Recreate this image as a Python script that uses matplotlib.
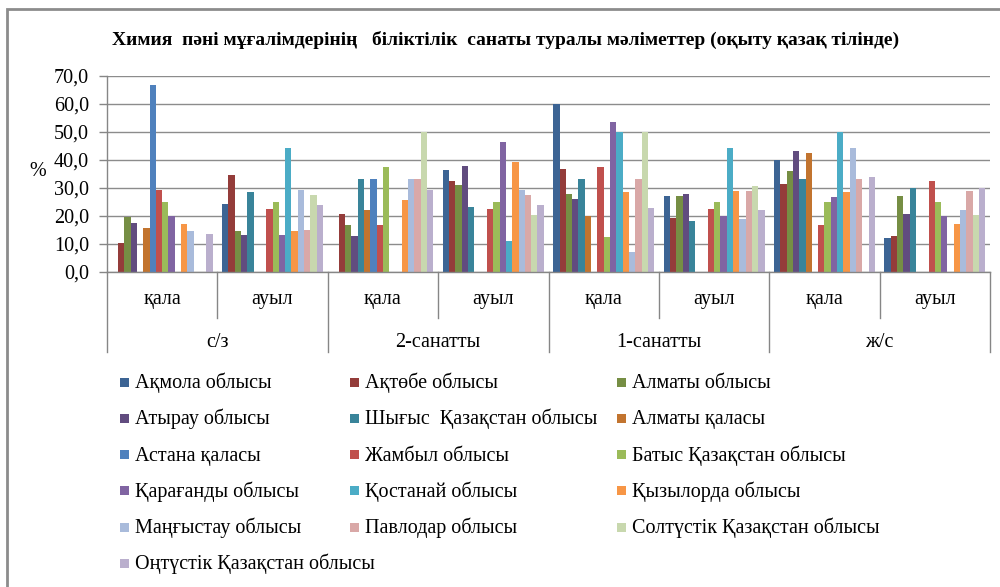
import matplotlib.pyplot as plt
import matplotlib.patches as mpatches
from matplotlib.ticker import FuncFormatter
import numpy as np

plt.rcParams['font.family'] = ['Liberation Serif', 'DejaVu Serif']

# санаттар (екі деңгейлі ось)
sub_labels = ['қала', 'ауыл'] * 4
main_labels = ['с/з', '2-санатты', '1-санатты', 'ж/с']

regions = ['Ақмола облысы', 'Ақтөбе облысы', 'Алматы облысы',
           'Атырау облысы', 'Шығыс  Қазақстан облысы', 'Алматы қаласы',
           'Астана қаласы', 'Жамбыл облысы', 'Батыс Қазақстан облысы',
           'Қарағанды облысы', 'Қостанай облысы', 'Қызылорда облысы',
           'Маңғыстау облысы', 'Павлодар облысы', 'Солтүстік Қазақстан облысы',
           'Оңтүстік Қазақстан облысы']

# мәндер, % (8 санат бойынша)
akmola     = [0, 24.3, 0, 36.5, 60.0, 27.0, 40.0, 12.1]
aktobe     = [10.5, 34.8, 20.8, 32.6, 36.9, 19.4, 31.5, 12.9]
almaty_obl = [19.5, 14.5, 16.7, 31.2, 27.7, 27.0, 36.2, 27.0]
atyrau     = [17.4, 13.2, 12.9, 37.9, 26.1, 28.0, 43.3, 20.8]
shygys     = [0, 28.5, 33.3, 23.3, 33.3, 18.1, 33.3, 30.0]
almaty_q   = [15.6, 0, 22.1, 0, 20.0, 0, 42.4, 0]
astana     = [66.7, 0, 33.3, 0, 0, 0, 0, 0]
zhambyl    = [29.2, 22.6, 16.7, 22.6, 37.5, 22.6, 16.7, 32.6]
batys      = [25.0, 25.0, 37.5, 25.0, 12.5, 25.0, 25.0, 25.0]
karagandy  = [20.0, 13.2, 0, 46.5, 53.5, 20.0, 26.7, 20.0]
kostanay   = [0, 44.4, 0, 11.1, 50.0, 44.4, 50.0, 0]
kyzylorda  = [17.0, 14.5, 25.7, 39.2, 28.5, 28.8, 28.5, 17.3]
mangystau  = [14.5, 29.2, 33.3, 29.2, 7.3, 18.8, 44.4, 22.1]
pavlodar   = [0, 14.9, 33.3, 27.4, 33.3, 28.8, 33.3, 28.8]
soltustik  = [0, 27.4, 50.0, 20.5, 50.0, 30.8, 0, 20.5]
ontustik   = [13.5, 23.9, 29.2, 23.9, 23.0, 22.3, 34.0, 30.0]

series = [akmola, aktobe, almaty_obl, atyrau, shygys, almaty_q, astana, zhambyl,
          batys, karagandy, kostanay, kyzylorda, mangystau, pavlodar, soltustik, ontustik]

colors = ['#3C6494', '#943C3A', '#768E44', '#614C7F', '#39849A', '#C2742F',
          '#4F81BD', '#C0504D', '#9BBB59', '#8064A2', '#4BACC6', '#F79646',
          '#A9BBDB', '#D9A8A7', '#C8D8AE', '#BAAFCD']

fig = plt.figure(figsize=(10, 5.87), dpi=100)
ax = fig.add_axes([0.107, 0.5366, 0.883, 0.3339])

n = len(series)
x = np.arange(len(sub_labels))
w = 1 / (n + 1.5)
for i, (vals, c) in enumerate(zip(series, colors)):
    ax.bar(x - 0.5 + 0.75 * w + (i + 0.5) * w, vals, width=w, color=c, linewidth=0)

ax.set_xlim(-0.5, len(sub_labels) - 0.5)
ax.set_ylim(0, 70)
ax.set_yticks(np.arange(0, 71, 10))
ax.yaxis.set_major_formatter(FuncFormatter(lambda v, p: f'{v:.1f}'.replace('.', ',')))
ax.tick_params(axis='y', length=6, width=1, color='#868686', labelsize=14.5, pad=7)
ax.set_xticks([])
ax.grid(axis='y', color='#8C8C8C', linewidth=1)
ax.set_axisbelow(True)
for s in ['top', 'right']:
    ax.spines[s].set_visible(False)
for s in ['left', 'bottom']:
    ax.spines[s].set_color('#868686')
    ax.spines[s].set_linewidth(1)

# екі деңгейлі X осі
tr = ax.get_xaxis_transform()
for i, lab in enumerate(sub_labels):
    ax.text(i, -0.14, lab, transform=tr, ha='center', va='center', fontsize=14.5)
for j, lab in enumerate(main_labels):
    ax.text(2 * j + 0.5, -0.36, lab, transform=tr, ha='center', va='center', fontsize=14.5)
for k in range(len(sub_labels) + 1):
    y_end = -0.41 if k % 2 == 0 else -0.235
    ax.plot([k - 0.5, k - 0.5], [0, y_end], transform=tr, color='#868686',
            linewidth=1, clip_on=False)

fig.text(0.506, 0.932, 'Химия  пәні мұғалімдерінің   біліктілік  санаты туралы мәліметтер (оқыту қазақ тілінде)',
         ha='center', va='center', fontsize=14, fontweight='bold')
fig.text(0.038, 0.707, '%', ha='center', va='center', fontsize=14.5)

# легенда (3 баған, қатар бойынша)
col_x = [120, 350, 617]
row_y0, row_dy = 382, 36.3
for i, (name, c) in enumerate(zip(regions, colors)):
    r, cidx = divmod(i, 3)
    px, py = col_x[cidx], row_y0 + r * row_dy
    fig.patches.append(mpatches.Rectangle((px / 1000, 1 - (py + 4.5) / 587), 8.5 / 1000, 9 / 587,
                                          transform=fig.transFigure, color=c, linewidth=0))
    fig.text((px + 15) / 1000, 1 - (py + 6) / 587, name, ha='left', va='baseline', fontsize=14.5)

# диаграмма жиегі
fig.patches.append(mpatches.Rectangle((6.5 / 1000, -0.1), 1.2, 1.1 - 9 / 587,
                                      transform=fig.transFigure, fill=False,
                                      edgecolor='#8C8C8C', linewidth=2))

fig.savefig('out.png', dpi=100)
